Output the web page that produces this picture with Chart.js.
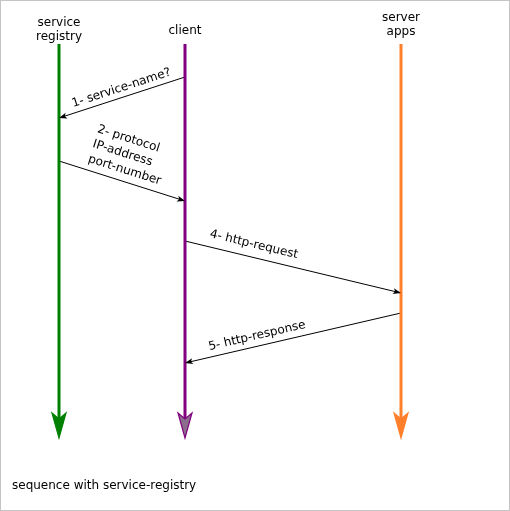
<!DOCTYPE html>
<html lang="en">
<head>
    <meta charset="UTF-8">
    <title>sequence with service-registry</title>
    <script src="https://cdn.jsdelivr.net/npm/chart.js@4.4.1/dist/chart.umd.min.js"></script>
    <style>
        html, body { margin: 0; padding: 0; background: #fff; overflow: hidden; }
        canvas { display: block; }
    </style>
</head>
<body>
    <canvas id="seqChart" width="510" height="511"></canvas>

    <script>
        // participants and their lifelines
        var participants = [['service', 'registry'], ['client'], ['server', 'apps']];
        var lifelineX = [59, 185, 401];
        var lifelineTop = [44, 44, 44];
        var lifelineEnd = [420, 420, 420];

        // messages: sender index, receiver index, y at sender, y at receiver
        var msgFrom = [1, 0, 1, 2];
        var msgTo = [0, 1, 2, 1];
        var msgFromY = [77, 161, 241, 313];
        var msgToY = [118, 201, 293, 363];
        var msgLabels = [
            ['1- service-name?'],
            ['2- protocol', 'IP-address', 'port-number'],
            ['4- http-request'],
            ['5- http-response']
        ];

        var caption = 'sequence with service-registry';

        // look
        var lifelineColors = ['#008000', '#800080', '#ff7f2a'];
        var headFill = ['#008000', '#8b6e8b', '#ff7f2a'];
        var FONT = '12px "DejaVu Sans", "Liberation Sans", sans-serif';
        var headerBase = [[26, 40], [34], [21, 35]];   // header baselines
        var labelStart = [16, 26, 22, 26];              // label start, px from left end
        var labelLift = [6, 8, 9.5, 7];                 // baseline above the arrow
        var LINE_H = 15.5;

        var datasets = [];
        participants.forEach(function (p, i) {
            datasets.push({
                label: p.join(' '),
                data: [{ x: lifelineX[i], y: lifelineTop[i] }, { x: lifelineX[i], y: lifelineEnd[i] }],
                showLine: true,
                borderColor: lifelineColors[i],
                borderWidth: 3,
                pointRadius: 0,
                borderCapStyle: 'butt'
            });
        });
        msgLabels.forEach(function (lbl, i) {
            datasets.push({
                label: lbl.join(' '),
                data: [{ x: lifelineX[msgFrom[i]], y: msgFromY[i] }, { x: lifelineX[msgTo[i]], y: msgToY[i] }],
                showLine: true,
                borderColor: '#000',
                borderWidth: 1,
                pointRadius: 0
            });
        });

        var seqPlugin = {
            id: 'seqPlugin',
            beforeDraw: function (chart) {
                var ctx = chart.ctx;
                ctx.save();
                ctx.fillStyle = '#fff';
                ctx.fillRect(0, 0, chart.width, chart.height);
                ctx.strokeStyle = '#c4c4c4';
                ctx.lineWidth = 1;
                ctx.strokeRect(0.5, 0.5, chart.width - 1, chart.height - 1);
                ctx.restore();
            },
            afterDatasetsDraw: function (chart) {
                var ctx = chart.ctx;
                var xs = chart.scales.x, ys = chart.scales.y;
                ctx.save();
                ctx.font = FONT;
                ctx.textBaseline = 'alphabetic';

                // headers and lifeline arrow heads
                participants.forEach(function (p, i) {
                    var px = xs.getPixelForValue(lifelineX[i]);
                    ctx.textAlign = 'center';
                    ctx.fillStyle = '#000';
                    p.forEach(function (line, j) {
                        ctx.fillText(line, px, headerBase[i][j]);
                    });
                    var end = ys.getPixelForValue(lifelineEnd[i]);
                    ctx.beginPath();
                    ctx.moveTo(px - 7, end - 7);
                    ctx.lineTo(px, end - 1);
                    ctx.lineTo(px + 7, end - 7);
                    ctx.lineTo(px, end + 18);
                    ctx.closePath();
                    ctx.fillStyle = headFill[i];
                    ctx.fill();
                    ctx.strokeStyle = lifelineColors[i];
                    ctx.lineWidth = 1.2;
                    ctx.stroke();
                });

                // message heads and labels
                msgLabels.forEach(function (lbl, i) {
                    var ax = xs.getPixelForValue(lifelineX[msgFrom[i]]);
                    var ay = ys.getPixelForValue(msgFromY[i]);
                    var bx = xs.getPixelForValue(lifelineX[msgTo[i]]);
                    var by = ys.getPixelForValue(msgToY[i]);
                    var dx = bx - ax, dy = by - ay;
                    var len = Math.sqrt(dx * dx + dy * dy);
                    var ux = dx / len, uy = dy / len;

                    ctx.beginPath();
                    ctx.moveTo(bx, by);
                    ctx.lineTo(bx - 8 * ux - 3 * uy, by - 8 * uy + 3 * ux);
                    ctx.lineTo(bx - 6 * ux, by - 6 * uy);
                    ctx.lineTo(bx - 8 * ux + 3 * uy, by - 8 * uy - 3 * ux);
                    ctx.closePath();
                    ctx.fillStyle = '#000';
                    ctx.fill();

                    // label runs left to right along the arrow
                    var leftIsA = ax < bx;
                    var lx = leftIsA ? ax : bx, ly = leftIsA ? ay : by;
                    var rx = leftIsA ? bx : ax, ry = leftIsA ? by : ay;
                    var t = labelStart[i] / (rx - lx);
                    ctx.save();
                    ctx.translate(lx + t * (rx - lx), ly + t * (ry - ly));
                    ctx.rotate(Math.atan2(ry - ly, rx - lx));
                    ctx.textAlign = 'left';
                    var n = lbl.length;
                    lbl.forEach(function (line, j) {
                        ctx.fillText(line, 0, -labelLift[i] - (n - 1 - j) * LINE_H);
                    });
                    ctx.restore();
                });

                ctx.textAlign = 'left';
                ctx.fillStyle = '#000';
                ctx.fillText(caption, 12, 489);
                ctx.restore();
            }
        };

        var chart = new Chart(document.getElementById('seqChart'), {
            type: 'scatter',
            data: { datasets: datasets },
            options: {
                responsive: false,
                animation: false,
                devicePixelRatio: 1,
                layout: { padding: 0 },
                plugins: { legend: { display: false }, tooltip: { enabled: false } },
                scales: {
                    x: { type: 'linear', min: 0, max: 510, display: false },
                    y: { type: 'linear', min: 0, max: 511, reverse: true, display: false }
                }
            },
            plugins: [seqPlugin]
        });
    </script>
</body>
</html>
